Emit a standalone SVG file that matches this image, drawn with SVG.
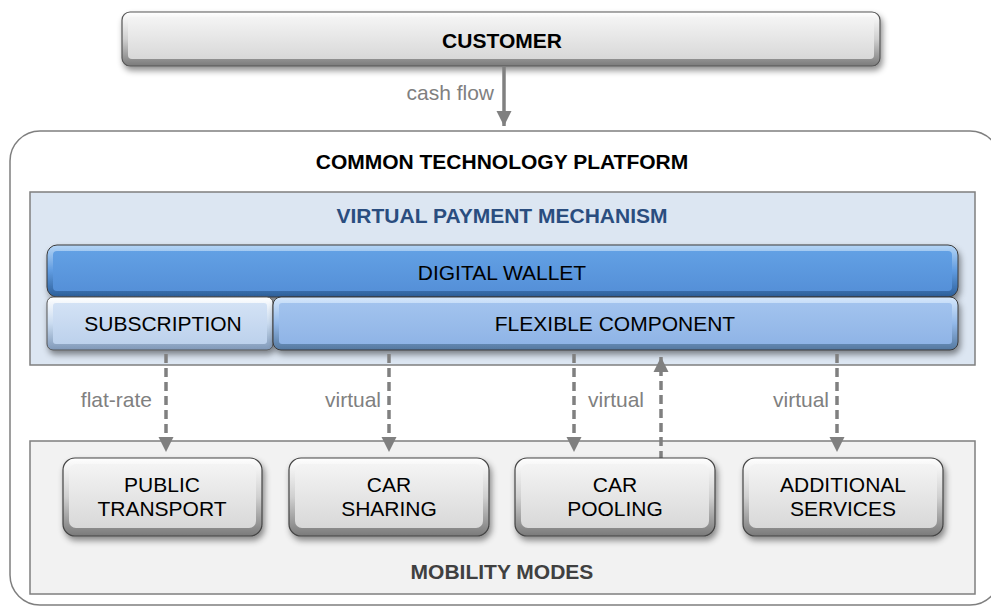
<svg xmlns="http://www.w3.org/2000/svg" width="991" height="609" viewBox="0 0 991 609">
<defs>
<style>
.t{font-family:"Liberation Sans",Arial,sans-serif;text-anchor:middle}
.b{font-weight:bold;font-size:21px;fill:#000}
.n{font-size:21px;fill:#000}
.lbl{font-family:"Liberation Sans",Arial,sans-serif;font-size:21px;fill:#808080}
.conn{stroke:#808080;stroke-width:3.5;fill:none;stroke-dasharray:9,5}
.frame{stroke:#7f7f7f;stroke-width:1.5}
</style>
<filter id="sh" x="-10%" y="-20%" width="120%" height="150%">
<feDropShadow dx="2" dy="4" stdDeviation="3" flood-color="#000" flood-opacity="0.45"/>
</filter>
<linearGradient id="gOut" x1="0" y1="0" x2="0" y2="1">
<stop offset="0" stop-color="#ffffff"/><stop offset="0.5" stop-color="#d0d0d0"/><stop offset="1" stop-color="#7a7a7a"/>
</linearGradient>
<linearGradient id="gIn" x1="0" y1="0" x2="0" y2="1">
<stop offset="0" stop-color="#f4f4f4"/><stop offset="1" stop-color="#d8d8d8"/>
</linearGradient>
<linearGradient id="bOut" x1="0" y1="0" x2="0" y2="1">
<stop offset="0" stop-color="#b6d6f6"/><stop offset="0.5" stop-color="#5f9be0"/><stop offset="1" stop-color="#2d5f9a"/>
</linearGradient>
<linearGradient id="bIn" x1="0" y1="0" x2="0" y2="1">
<stop offset="0" stop-color="#62a0e4"/><stop offset="1" stop-color="#5590d8"/>
</linearGradient>
<linearGradient id="sOut" x1="0" y1="0" x2="0" y2="1">
<stop offset="0" stop-color="#ffffff"/><stop offset="0.5" stop-color="#c9dbf0"/><stop offset="1" stop-color="#7f98b8"/>
</linearGradient>
<linearGradient id="sIn" x1="0" y1="0" x2="0" y2="1">
<stop offset="0" stop-color="#d3e2f5"/><stop offset="1" stop-color="#bcd1ec"/>
</linearGradient>
<linearGradient id="fOut" x1="0" y1="0" x2="0" y2="1">
<stop offset="0" stop-color="#d6e8fc"/><stop offset="0.5" stop-color="#93b9e9"/><stop offset="1" stop-color="#54789f"/>
</linearGradient>
<linearGradient id="fIn" x1="0" y1="0" x2="0" y2="1">
<stop offset="0" stop-color="#a2c3ee"/><stop offset="1" stop-color="#8fb4e6"/>
</linearGradient>
<marker id="ahs" viewBox="0 0 10 10" refX="10" refY="5" markerWidth="4.4" markerHeight="4.4" orient="auto" markerUnits="strokeWidth">
<path d="M0,0 L10,5 L0,10 Z" fill="#808080"/>
</marker>
</defs>

<g id="customer">
<rect x="122" y="12" width="758" height="54" rx="8" fill="url(#gOut)" stroke="#555" stroke-width="1.2" filter="url(#sh)"/>
<rect x="128" y="17" width="746" height="42" rx="4" fill="url(#gIn)"/>
<text class="t b" x="502" y="48">CUSTOMER</text>
</g>

<g id="platform">
<rect x="10" y="131" width="990" height="474" rx="30" fill="#fff" class="frame"/>
<text class="t b" x="502" y="169">COMMON TECHNOLOGY PLATFORM</text>
</g>

<g id="vpm">
<rect x="30" y="192" width="945" height="173" fill="#dce6f2" class="frame"/>
<text class="t b" x="502" y="223" style="fill:#2a4d7f">VIRTUAL PAYMENT MECHANISM</text>
</g>

<g id="digital-wallet">
<rect x="47" y="245" width="911" height="52" rx="10" fill="url(#bOut)" stroke="#3a3a3a" stroke-width="1" filter="url(#sh)"/>
<rect x="53" y="251" width="899" height="40" rx="4" fill="url(#bIn)"/>
<text class="t n" x="502" y="280">DIGITAL WALLET</text>
</g>

<g id="subscription">
<rect x="47" y="297" width="226" height="53" rx="6" fill="url(#sOut)" stroke="#555" stroke-width="1" filter="url(#sh)"/>
<rect x="53" y="303" width="214" height="41" rx="3" fill="url(#sIn)"/>
<text class="t n" x="163" y="331">SUBSCRIPTION</text>
</g>

<g id="flexible-component">
<rect x="273" y="297" width="685" height="53" rx="8" fill="url(#fOut)" stroke="#3a3a3a" stroke-width="1" filter="url(#sh)"/>
<rect x="279" y="303" width="673" height="41" rx="3" fill="url(#fIn)"/>
<text class="t n" x="615" y="331">FLEXIBLE COMPONENT</text>
</g>

<g id="mobility">
<rect x="30" y="441" width="945" height="153" fill="#f2f2f2" class="frame"/>
<text class="t b" x="502" y="579" style="fill:#404040">MOBILITY MODES</text>
</g>

<g id="connectors">
<line x1="504" y1="67" x2="504" y2="126" stroke="#808080" stroke-width="3.5" marker-end="url(#ahs)"/>
<line class="conn" x1="166" y1="354" x2="166" y2="452" marker-end="url(#ahs)"/>
<line class="conn" x1="389" y1="354" x2="389" y2="452" marker-end="url(#ahs)"/>
<line class="conn" x1="574" y1="354" x2="574" y2="452" marker-end="url(#ahs)"/>
<line class="conn" x1="661" y1="460" x2="661" y2="357" marker-end="url(#ahs)"/>
<line class="conn" x1="837" y1="354" x2="837" y2="452" marker-end="url(#ahs)"/>
<text class="lbl" x="494" y="100" text-anchor="end">cash flow</text>
<text class="lbl" x="152" y="407" text-anchor="end">flat-rate</text>
<text class="lbl" x="381" y="407" text-anchor="end">virtual</text>
<text class="lbl" x="588" y="407">virtual</text>
<text class="lbl" x="829" y="407" text-anchor="end">virtual</text>
</g>

<g id="public-transport">
<rect x="63" y="458" width="199" height="78" rx="12" fill="url(#gOut)" stroke="#444" stroke-width="1.2" filter="url(#sh)"/>
<rect x="69" y="464" width="187" height="64" rx="7" fill="url(#gIn)"/>
<text class="t n" x="162" y="492">PUBLIC</text>
<text class="t n" x="162" y="516">TRANSPORT</text>
</g>
<g id="car-sharing">
<rect x="289" y="458" width="200" height="78" rx="12" fill="url(#gOut)" stroke="#444" stroke-width="1.2" filter="url(#sh)"/>
<rect x="295" y="464" width="188" height="64" rx="7" fill="url(#gIn)"/>
<text class="t n" x="389" y="492">CAR</text>
<text class="t n" x="389" y="516">SHARING</text>
</g>
<g id="car-pooling">
<rect x="515" y="458" width="200" height="78" rx="12" fill="url(#gOut)" stroke="#444" stroke-width="1.2" filter="url(#sh)"/>
<rect x="521" y="464" width="188" height="64" rx="7" fill="url(#gIn)"/>
<text class="t n" x="615" y="492">CAR</text>
<text class="t n" x="615" y="516">POOLING</text>
</g>
<g id="additional-services">
<rect x="743" y="458" width="200" height="78" rx="12" fill="url(#gOut)" stroke="#444" stroke-width="1.2" filter="url(#sh)"/>
<rect x="749" y="464" width="188" height="64" rx="7" fill="url(#gIn)"/>
<text class="t n" x="843" y="492">ADDITIONAL</text>
<text class="t n" x="843" y="516">SERVICES</text>
</g>
</svg>
